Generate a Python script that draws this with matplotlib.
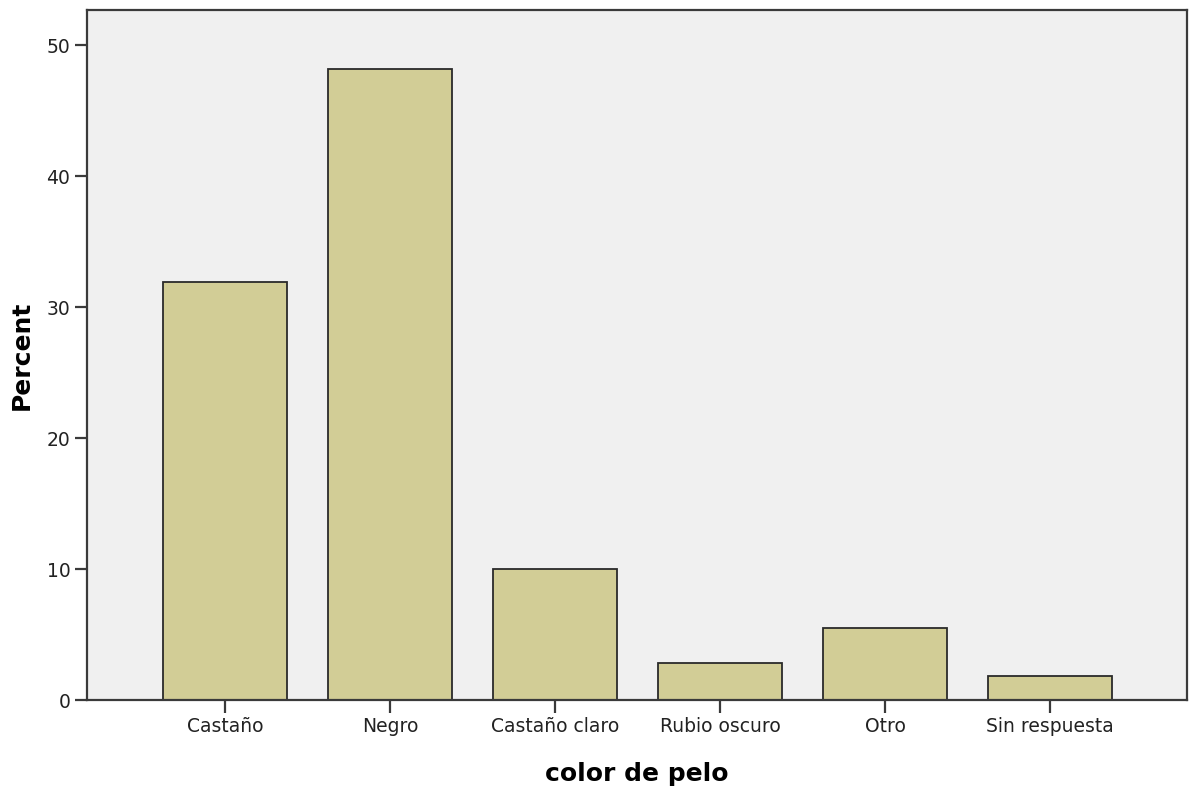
import matplotlib.pyplot as plt

# Hair colour distribution (percent)
categories = ['Castaño', 'Negro', 'Castaño claro', 'Rubio oscuro', 'Otro', 'Sin respuesta']
percent = [31.9, 48.2, 10.0, 2.8, 5.5, 1.8]
y_ticks = [0, 10, 20, 30, 40, 50]

plt.rcParams.update({
    'font.family': 'DejaVu Sans',
    'font.size': 13.5,
})

fig = plt.figure(figsize=(11.97, 7.93), dpi=100)
ax = fig.add_axes([87 / 1197, 1 - 700 / 793, (1187 - 87) / 1197, (700 - 10) / 793])
ax.set_facecolor('#f0f0f0')

x = range(len(categories))
ax.bar(x, percent, width=0.75, color='#d2cd96', edgecolor='#2a2a2a', linewidth=1.3, zorder=2)

ax.set_xlim(-0.836, 5.83)
ax.set_ylim(0, 52.7)
ax.set_xticks(list(x))
ax.set_xticklabels(categories)
ax.set_yticks(y_ticks)

for side in ['left', 'right', 'top', 'bottom']:
    ax.spines[side].set_color('#3a3a3a')
    ax.spines[side].set_linewidth(1.6)

ax.tick_params(axis='both', direction='out', length=9, width=1.6, color='#3a3a3a',
               labelsize=13.5, labelcolor='#222222', pad=3)

ax.set_ylabel('Percent', fontsize=18, fontweight='bold', labelpad=9)
ax.set_xlabel('color de pelo', fontsize=18, fontweight='bold', labelpad=19)

fig.savefig('out.png', dpi=100)
